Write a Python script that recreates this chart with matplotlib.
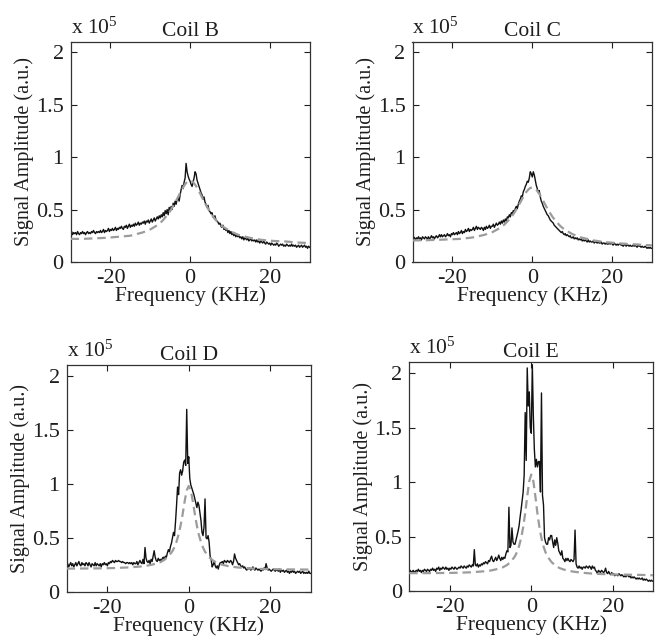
import numpy as np
import matplotlib
matplotlib.use("Agg")
import matplotlib.pyplot as plt

plt.rcParams['font.family'] = ['Liberation Serif', 'DejaVu Serif']
plt.rcParams['mathtext.fontset'] = 'custom'
plt.rcParams['mathtext.rm'] = 'Liberation Serif'
plt.rcParams['mathtext.it'] = 'Liberation Serif:italic'

# ---------------- data (amplitudes in units of 1e5) ----------------
FREQ_START, FREQ_STOP, FREQ_STEP = -30.0, 30.0, 0.25

coil_names = ["Coil B", "Coil C", "Coil D", "Coil E"]

signal_B = [
    .27, .29, .26, .28, .27, .28, .26, .29, .27, .26, .28, .27, .29, .27, .28, .26,
    .28, .29, .27, .28, .27, .29, .28, .30, .28, .27, .29, .28, .29, .28, .30, .28,
    .29, .31, .28, .30, .29, .30, .32, .29, .31, .30, .32, .30, .31, .33, .30, .32,
    .31, .33, .32, .34, .32, .31, .34, .33, .35, .32, .34, .36, .33, .35, .34, .36,
    .34, .37, .35, .36, .38, .35, .37, .36, .38, .37, .39, .36, .39, .38, .40, .37,
    .39, .41, .38, .40, .42, .39, .41, .43, .41, .44, .42, .45, .43, .47, .44, .49,
    .46, .50, .45, .52, .49, .53, .50, .56, .53, .58, .55, .60, .61, .58, .64, .69,
    .73, .70, .76, .80, .94, .86, .82, .79, .77, .74, .72, .76, .80, .86, .84, .78,
    .75, .72, .69, .66, .64, .60, .62, .57, .55, .52, .54, .49, .48, .46, .47, .43,
    .42, .44, .40, .39, .38, .36, .37, .34, .33, .35, .31, .32, .30, .31, .28, .30,
    .27, .29, .26, .28, .25, .27, .24, .26, .24, .25, .23, .24, .22, .24, .21, .23,
    .22, .21, .23, .20, .21, .22, .20, .21, .20, .21, .19, .21, .19, .20, .18, .20,
    .19, .18, .20, .18, .17, .19, .18, .17, .18, .16, .18, .17, .16, .17, .16, .18,
    .17, .15, .16, .17, .16, .17, .15, .16, .15, .17, .16, .15, .16, .15, .17, .15,
    .16, .15, .16, .14, .15, .16, .14, .15, .16, .14, .15, .16, .14, .15, .13, .15,
    .14]

signal_C = [
    .22, .24, .23, .21, .23, .22, .24, .22, .23, .21, .24, .23, .22, .24, .23, .22,
    .24, .22, .23, .25, .23, .24, .22, .24, .25, .23, .24, .26, .24, .26, .24, .25,
    .26, .24, .25, .27, .25, .26, .24, .27, .26, .28, .26, .27, .28, .26, .29, .27,
    .28, .30, .27, .29, .28, .31, .29, .30, .32, .29, .31, .30, .31, .33, .30, .32,
    .34, .31, .33, .32, .31, .33, .32, .30, .33, .31, .34, .32, .33, .35, .32, .34,
    .34, .36, .33, .35, .37, .35, .36, .38, .36, .39, .37, .40, .38, .41, .39, .43,
    .42, .45, .43, .47, .46, .49, .47, .51, .53, .51, .55, .58, .60, .63, .62, .67,
    .69, .72, .74, .77, .76, .80, .86, .84, .81, .86, .83, .78, .73, .70, .66, .68,
    .62, .58, .56, .53, .51, .49, .47, .45, .44, .42, .40, .39, .38, .37, .35, .34,
    .33, .32, .31, .30, .29, .28, .29, .27, .26, .27, .25, .26, .25, .24, .25, .23,
    .23, .24, .22, .23, .22, .23, .21, .22, .21, .22, .20, .21, .20, .21, .20, .19,
    .21, .19, .20, .19, .19, .20, .18, .19, .19, .18, .19, .18, .18, .19, .17, .18,
    .18, .17, .18, .17, .17, .18, .17, .18, .17, .16, .18, .17, .16, .17, .16, .17,
    .17, .16, .16, .15, .16, .17, .15, .16, .16, .15, .16, .15, .15, .16, .15, .16,
    .15, .14, .16, .15, .15, .14, .15, .14, .14, .15, .14, .13, .14, .13, .14, .13,
    .13]

signal_D = [
    .24, .26, .23, .25, .27, .24, .26, .23, .25, .27, .24, .26, .28, .25, .24, .27,
    .25, .26, .24, .27, .26, .24, .27, .25, .23, .26, .25, .24, .27, .24, .26, .25,
    .24, .26, .23, .26, .25, .27, .25, .26, .24, .27, .26, .28, .27, .29, .28, .27,
    .29, .28, .28, .29, .28, .28, .27, .28, .27, .27, .26, .27, .27, .26, .27, .26,
    .27, .25, .27, .26, .26, .28, .25, .27, .29, .27, .26, .30, .26, .41, .31, .28,
    .27, .29, .26, .30, .28, .33, .38, .32, .29, .28, .31, .29, .30, .28, .31, .32,
    .30, .33, .32, .36, .39, .37, .42, .45, .50, .55, .52, .65, .80, .97, .90, 1.10,
    1.13, 1.08, 1.12, 1.20, 1.22, 1.17, 1.69, 1.19, 1.25, 1.05, .99, .96, .93, .90, .86, .82,
    .78, .83, .80, .73, .66, .55, .52, .60, .86, .50, .49, .52, .46, .33, .30, .23,
    .25, .28, .24, .22, .24, .21, .25, .27, .27, .28, .26, .29, .28, .27, .29, .28,
    .27, .29, .28, .25, .28, .35, .31, .29, .27, .25, .26, .24, .23, .24, .22, .23,
    .21, .20, .22, .21, .22, .20, .21, .23, .21, .20, .22, .21, .20, .21, .20, .19,
    .21, .20, .22, .21, .26, .22, .20, .21, .20, .19, .20, .21, .20, .19, .20, .20,
    .19, .21, .18, .20, .19, .20, .18, .19, .20, .18, .19, .17, .19, .18, .20, .18,
    .19, .17, .18, .19, .18, .19, .17, .18, .19, .17, .18, .17, .18, .17, .19, .17,
    .17]

signal_E = [
    .18, .19, .17, .18, .19, .17, .18, .19, .18, .20, .18, .19, .17, .19, .18, .20,
    .19, .18, .20, .19, .18, .20, .19, .21, .19, .20, .18, .21, .20, .22, .19, .21,
    .20, .22, .21, .20, .22, .20, .21, .19, .21, .20, .22, .21, .20, .22, .21, .20,
    .21, .22, .21, .23, .22, .21, .23, .22, .21, .23, .22, .24, .23, .22, .24, .23,
    .38, .24, .23, .25, .22, .24, .23, .25, .24, .26, .25, .27, .26, .25, .28, .27,
    .30, .32, .28, .27, .29, .31, .28, .30, .33, .30, .28, .31, .29, .31, .30, .34,
    .37, .36, .77, .40, .42, .58, .45, .43, .43, .47, .51, .55, .60, .68, .75, .83,
    .91, 1.07, 1.64, 1.20, 2.05, 1.70, 1.83, 1.50, 1.45, 2.08, 1.61, 1.30, 1.14, 1.21, 1.14, 1.19,
    1.19, .91, 1.82, .88, .79, .49, .45, .43, .43, .49, .47, .51, .51, .45, .40, .47,
    .42, .49, .44, .37, .35, .33, .37, .30, .29, .27, .30, .28, .30, .28, .27, .29,
    .28, .27, .29, .56, .25, .22, .21, .23, .21, .22, .20, .22, .22, .21, .23, .22,
    .21, .23, .22, .20, .23, .21, .22, .19, .18, .16, .19, .18, .17, .19, .18, .17,
    .18, .21, .17, .16, .18, .16, .15, .17, .15, .16, .14, .15, .15, .14, .16, .15,
    .14, .15, .14, .13, .14, .13, .15, .14, .13, .14, .12, .13, .12, .13, .12, .11,
    .12, .11, .12, .11, .11, .12, .10, .11, .10, .11, .10, .09, .10, .09, .10, .09,
    .09]

fit_freq = [-30, -27, -24, -21, -18, -15, -12, -10, -8, -7, -6, -5, -4, -3.5, -3, -2.5,
            -2, -1.5, -1, -0.5, 0, 0.5, 1, 1.5, 2, 2.5, 3, 3.5, 4, 5, 6, 7, 8, 10, 12,
            15, 18, 21, 24, 27, 30]

fit_B = [.22, .22, .225, .23, .24, .25, .28, .31, .355, .39, .435, .485, .55, .585, .62, .66,
         .695, .727, .753, .77, .775, .768, .75, .724, .69, .655, .615, .578, .542, .477, .42,
         .377, .342, .295, .26, .23, .21, .20, .195, .185, .18]

fit_C = [.205, .207, .21, .215, .22, .233, .258, .284, .326, .356, .395, .44, .50, .535, .568,
         .604, .637, .667, .69, .706, .71, .705, .689, .664, .634, .60, .563, .528, .494, .433,
         .384, .343, .311, .266, .236, .207, .19, .18, .171, .165, .158]

fit_D = [.214, .215, .216, .217, .22, .225, .233, .243, .26, .274, .295, .326, .377, .415, .465,
         .53, .615, .72, .84, .94, .98, .94, .837, .718, .61, .525, .46, .41, .37, .32, .288,
         .266, .252, .235, .225, .216, .211, .209, .207, .206, .205]

fit_E = [.164, .164, .165, .166, .168, .172, .18, .188, .205, .218, .238, .27, .32, .36, .414,
         .487, .586, .717, .87, 1.01, 1.07, 1.01, .87, .715, .585, .485, .41, .355, .315, .265,
         .232, .21, .197, .18, .17, .16, .155, .152, .15, .148, .145]

x_ticks = [-20, 0, 20]
y_ticks = [0, 0.5, 1, 1.5, 2]
y_tick_labels = ["0", "0.5", "1", "1.5", "2"]

signals = [signal_B, signal_C, signal_D, signal_E]
fits = [fit_B, fit_C, fit_D, fit_E]

# ---------------- figure ----------------
fig = plt.figure(figsize=(6.6, 6.42), dpi=100)
positions = [
    [0.107, 0.592, 0.362, 0.343],
    [0.625, 0.592, 0.363, 0.343],
    [0.101, 0.0783, 0.370, 0.353],
    [0.620, 0.0794, 0.370, 0.356],
]

freq = np.arange(FREQ_START, FREQ_STOP + FREQ_STEP / 2, FREQ_STEP)
TXT = "#1e1e1e"

for pos, name, sig, fit in zip(positions, coil_names, signals, fits):
    ax = fig.add_axes(pos)
    ax.plot(freq, sig, color="#111111", lw=1.0, zorder=2)
    ax.plot(fit_freq, fit, color="#9c9c9c", lw=1.6, ls=(0, (3.8, 2.2)), zorder=3)
    ax.set_xlim(-30, 30)
    ax.set_ylim(0, 2.1)
    ax.set_xticks(x_ticks)
    ax.set_xticklabels([str(t) for t in x_ticks])
    ax.set_yticks(y_ticks)
    ax.set_yticklabels(y_tick_labels)
    ax.tick_params(direction="in", length=4, width=0.8, top=True, right=True,
                   labelsize=16, colors=TXT, pad=5)
    for sp in ax.spines.values():
        sp.set_linewidth(0.9)
        sp.set_color("#333333")
    ax.set_xlabel("Frequency (KHz)", fontsize=15.5, labelpad=-1, color=TXT)
    ax.set_ylabel("Signal Amplitude (a.u.)", fontsize=14.5, labelpad=1, color=TXT)
    ax.set_title(name, fontsize=15.5, pad=4, color=TXT)
    ax.text(0.0, 1.015, r"x 10$^{5}$", transform=ax.transAxes, ha="left", va="bottom",
            fontsize=15.5, color=TXT)

fig.savefig("out.png", dpi=100)
